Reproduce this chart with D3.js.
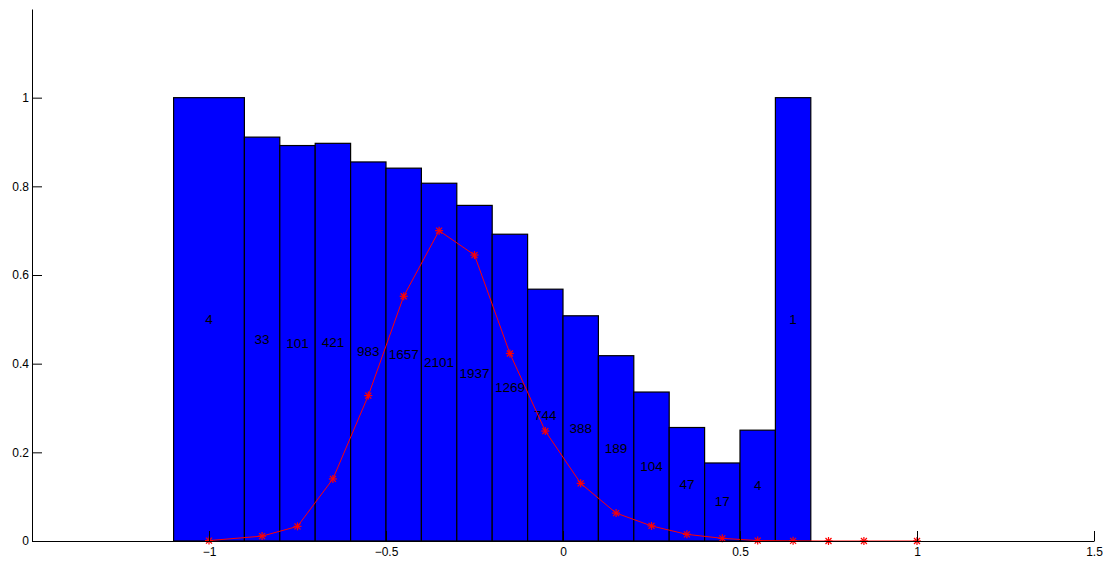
<!DOCTYPE html>
<html>
<head>
<meta charset="utf-8">
<script src="https://cdn.jsdelivr.net/npm/d3@7/dist/d3.min.js"></script>
<style>
  html, body { margin: 0; padding: 0; background: #fff; }
  svg { display: block; font-family: "Liberation Sans", Arial, Helvetica, sans-serif; }
</style>
</head>
<body>
<svg id="chart" width="1112" height="563"></svg>
<script>
// Histogram bins: left / right edges, relative bar heights and counts
const binLeft  = [-1.1, -0.9, -0.8, -0.7, -0.6, -0.5, -0.4, -0.3, -0.2, -0.1, 0.0, 0.1, 0.2, 0.3, 0.4, 0.5, 0.6];
const binRight = [-0.9, -0.8, -0.7, -0.6, -0.5, -0.4, -0.3, -0.2, -0.1, 0.0, 0.1, 0.2, 0.3, 0.4, 0.5, 0.6, 0.7];
const barValues = [1.0, 0.911, 0.892, 0.897, 0.855, 0.841, 0.807, 0.757, 0.692, 0.568, 0.508, 0.418, 0.336, 0.256, 0.176, 0.250, 1.0];
const binCenters = [-1.0, -0.85, -0.75, -0.65, -0.55, -0.45, -0.35, -0.25, -0.15, -0.05, 0.05, 0.15, 0.25, 0.35, 0.45, 0.55, 0.65];
const counts = [4, 33, 101, 421, 983, 1657, 2101, 1937, 1269, 744, 388, 189, 104, 47, 17, 4, 1];

// Distribution curve (red, asterisk markers)
const curveX = [-1.0, -0.85, -0.75, -0.65, -0.55, -0.45, -0.35, -0.25, -0.15, -0.05, 0.05, 0.15, 0.25, 0.35, 0.45, 0.55, 0.65, 0.75, 0.85, 1.0];
const curveY = [0.001, 0.011, 0.033, 0.140, 0.328, 0.552, 0.700, 0.645, 0.423, 0.248, 0.130, 0.063, 0.034, 0.015, 0.006, 0.001, 0.0003, 0, 0, 0];

// Axis ticks
const xTicks = [-1, -0.5, 0, 0.5, 1, 1.5];
const xTickLabels = ["\u22121", "\u22120.5", "0", "0.5", "1", "1.5"];
const yTicks = [0, 0.2, 0.4, 0.6, 0.8, 1];
const yTickLabels = ["0", "0.2", "0.4", "0.6", "0.8", "1"];

const svg = d3.select("#chart");
const plot = { left: 32, right: 1094, top: 9, bottom: 541 };

const x = d3.scaleLinear().domain([-1.5, 1.5]).range([plot.left, plot.right]);
const y = d3.scaleLinear().domain([0, 1.2]).range([plot.bottom, plot.top]);

// Bars
const bars = binLeft.map((l, i) => ({ l, r: binRight[i], v: barValues[i] }));
svg.append("g").selectAll("rect").data(bars).join("rect")
  .attr("x", d => x(d.l))
  .attr("y", d => y(d.v))
  .attr("width", d => x(d.r) - x(d.l))
  .attr("height", d => y(0) - y(d.v))
  .attr("fill", "#0000ff")
  .attr("stroke", "#000")
  .attr("stroke-width", 1.2);

// Count labels at half bar height
svg.append("g").selectAll("text").data(binCenters).join("text")
  .attr("x", d => x(d))
  .attr("y", (d, i) => y(barValues[i] / 2))
  .attr("text-anchor", "middle")
  .attr("dominant-baseline", "central")
  .attr("font-size", 13.5)
  .attr("fill", "#000")
  .text((d, i) => counts[i]);

// Curve line
const pts = curveX.map((cx, i) => [cx, curveY[i]]);
svg.append("path")
  .datum(pts)
  .attr("fill", "none")
  .attr("stroke", "#ff0000")
  .attr("stroke-width", 1)
  .attr("d", d3.line().x(d => x(d[0])).y(d => y(d[1])));

// Asterisk markers
const m = 4;
const markers = svg.append("g").attr("stroke", "#ff0000").attr("stroke-width", 1.2);
pts.forEach(p => {
  const px = x(p[0]), py = y(p[1]);
  const g = markers.append("g").attr("transform", `translate(${px},${py})`);
  g.append("line").attr("x1", -m).attr("x2", m).attr("y1", 0).attr("y2", 0);
  g.append("line").attr("x1", 0).attr("x2", 0).attr("y1", -m).attr("y2", m);
  g.append("line").attr("x1", -m * 0.75).attr("x2", m * 0.75).attr("y1", -m * 0.75).attr("y2", m * 0.75);
  g.append("line").attr("x1", -m * 0.75).attr("x2", m * 0.75).attr("y1", m * 0.75).attr("y2", -m * 0.75);
});

// Axes (ticks point inward)
const xAxis = d3.axisBottom(x).tickValues(xTicks)
  .tickFormat((d, i) => xTickLabels[i]).tickSizeInner(-10).tickSizeOuter(0).tickPadding(16);
const gx = svg.append("g").attr("transform", `translate(0,${plot.bottom})`).call(xAxis);

const yAxis = d3.axisLeft(y).tickValues(yTicks)
  .tickFormat((d, i) => yTickLabels[i]).tickSizeInner(-10).tickSizeOuter(0).tickPadding(16);
const gy = svg.append("g").attr("transform", `translate(${plot.left},0)`).call(yAxis);

[gx, gy].forEach(g => {
  g.select(".domain").attr("stroke", "#000").attr("stroke-width", 1);
  g.selectAll(".tick line").attr("stroke", "#000").attr("stroke-width", 1);
  g.selectAll(".tick text").attr("font-size", 12).attr("fill", "#000")
    .attr("font-family", "'Liberation Sans', Arial, sans-serif");
});
gy.selectAll(".tick text").attr("x", -3);
gx.selectAll(".tick text").attr("y", 6);
</script>
</body>
</html>
